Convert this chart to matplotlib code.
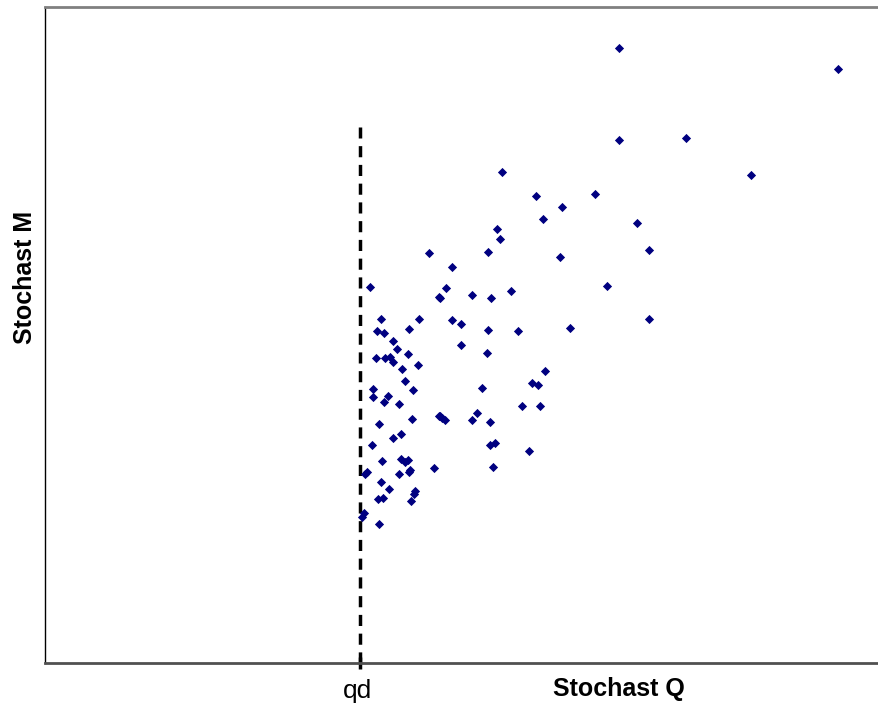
import matplotlib
matplotlib.use("Agg")
import matplotlib.pyplot as plt
from matplotlib.transforms import blended_transform_factory

plt.rcParams['font.family'] = ['Liberation Sans', 'DejaVu Sans']

# Stochast Q (x) and Stochast M (y)
q = [369.7, 438.7, 381.3, 418.7, 377.3, 384.0, 409.3, 393.3, 397.3, 407.7,
     376.3, 385.0, 389.7, 393.3, 418.3, 401.7, 405.3, 373.3, 412.7, 372.7,
     388.3, 383.7, 399.3, 439.3, 412.3, 379.3, 401.0, 392.7, 371.7, 382.3,
     401.0, 405.3, 408.3, 434.0, 366.7, 365.0, 399.3, 410.0, 409.3, 380.7,
     389.0, 415.3, 414.0, 378.0, 383.3, 410.7, 364.0, 362.3, 378.7,
     501.7, 535.7, 595.3, 562.3, 542.7, 637.3, 496.7, 500.3, 648.7, 428.7,
     487.7, 560.0, 452.3, 607.3, 446.0, 439.7, 472.0, 490.7, 511.3, 648.7,
     451.7, 461.3, 488.0, 518.3, 570.3, 460.7, 487.0, 545.3, 531.7, 538.0,
     482.3, 521.7, 540.3, 439.7, 442.0, 444.7, 477.0, 472.3, 490.0, 490.0,
     494.7, 528.7, 492.7,
     619.0, 838.0, 619.0, 686.0, 751.0]
m = [286.7, 297.3, 319.3, 318.7, 330.7, 332.7, 329.0, 341.0, 348.7, 353.7,
     358.0, 358.0, 357.3, 362.0, 364.7, 369.0, 381.3, 389.0, 390.0, 397.3,
     396.0, 402.0, 404.0, 416.0, 419.3, 424.3, 434.0, 437.7, 445.3, 460.7,
     459.3, 461.7, 460.0, 468.3, 471.7, 474.0, 474.0, 470.0, 472.3, 482.3,
     489.0, 491.0, 494.0, 498.7, 498.0, 501.3, 513.0, 517.3, 524.3,
     171.7, 196.3, 194.0, 207.3, 219.3, 222.7, 228.7, 239.3, 250.0, 253.3,
     252.0, 257.0, 266.7, 286.0, 288.0, 297.7, 295.0, 297.7, 291.0, 319.3,
     320.0, 324.3, 329.7, 331.3, 328.3, 345.0, 353.3, 371.0, 382.7, 385.3,
     388.0, 405.7, 405.7, 415.7, 418.3, 420.3, 413.3, 420.0, 422.3, 445.3,
     443.0, 450.7, 467.0,
     48.0, 69.0, 140.0, 138.0, 175.0]
m = [713 - v for v in m]  # screen rows -> values (up is larger)

qd = 360
qd_top = 713 - 127

fig = plt.figure(figsize=(8.79, 7.13), dpi=100)
ax = fig.add_axes([45/879, 50/713, 834/879, 656/713])

ax.scatter(q, m, marker='D', s=22, color='#000080', linewidths=0, zorder=3)
ax.plot([qd, qd], [50, qd_top], color='black', lw=2.5, ls=(0, (3.2, 2.2)), zorder=2)

ax.set_xlim(45, 879)
ax.set_ylim(50, 706)

ax.spines['right'].set_visible(False)
ax.spines['top'].set_color('#808080')
ax.spines['top'].set_linewidth(2)
ax.spines['left'].set_color('black')
ax.spines['left'].set_linewidth(1)
ax.spines['bottom'].set_color('#505050')
ax.spines['bottom'].set_linewidth(2)

ax.set_yticks([])
ax.set_xticks([qd])
ax.set_xticklabels([''])
ax.tick_params(axis='x', direction='inout', length=9, width=2.5, color='black')

tr = blended_transform_factory(ax.transData, fig.transFigure)
ax.text(qd - 2, 1 - 698/713, 'qd', fontsize=19, ha='center', va='baseline',
        transform=tr, clip_on=False)
ax.text(619, 1 - 696/713, 'Stochast Q', fontsize=18, fontweight='bold',
        ha='center', va='baseline', transform=tr, clip_on=False)
fig.text(25/879, 1 - 277/713, 'Stochast M', fontsize=18, fontweight='bold',
         rotation=90, ha='center', va='center')

fig.savefig('out.png', dpi=100)
